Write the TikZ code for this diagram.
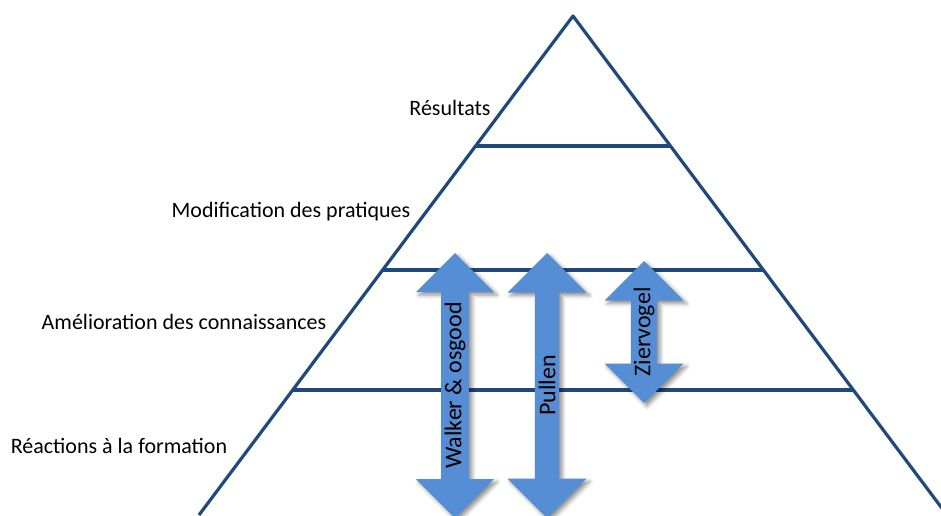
\documentclass[tikz,border=0pt]{standalone}
\usepackage{fontspec}
\setmainfont{Carlito}
\usetikzlibrary{calc,shapes.arrows,shadows.blur}
\definecolor{pyrline}{HTML}{1F497D}
\definecolor{arrowblue}{HTML}{558ED5}
\tikzset{x=1pt, y=-1pt,
  level/.style={draw=pyrline, line width=3.2pt},
  lvllabel/.style={font=\fontsize{22}{26}\selectfont, inner sep=0pt},
  bigarrow/.style={shape=double arrow, rotate=90, fill=arrowblue,
    double arrow tip angle=90, inner sep=0pt,
    font=\fontsize{24}{28}\selectfont,
    blur shadow={shadow xshift=3pt, shadow yshift=-3pt, shadow blur radius=4pt, shadow opacity=45}}}

\begin{document}
\begin{tikzpicture}
  \useasboundingbox (0,0) rectangle (941,515);
  \clip (0,0) rectangle (941,515);
  \coordinate (apex) at (573,16);
  \coordinate (bl) at (199,515);
  \coordinate (br) at (947,515);
  % pyramid
  \draw[level, line join=round] (bl) -- (apex) -- (br);
  \draw[level] ($(apex)!.2605!(bl)$) -- ($(apex)!.2605!(br)$);
  \draw[level] ($(apex)!.509!(bl)$) -- ($(apex)!.509!(br)$);
  \draw[level] ($(apex)!.7495!(bl)$) -- ($(apex)!.7495!(br)$);
  % levels
  \node[lvllabel] (res) at (450,108) {Résultats};
  \node[lvllabel] (mod) at (291,212) {Modification des pratiques};
  \node[lvllabel] (ame) at (184,322) {Amélioration des connaissances};
  \node[lvllabel] (rea) at (119,446) {Réactions à la formation};
  % arrows
  \node[bigarrow, minimum height=265, minimum width=78, double arrow head extend=19]
    (walker) at (455,385.5) {Walker \& osgood};
  \node[bigarrow, minimum height=265, minimum width=79, double arrow head extend=19.5]
    (pullen) at (547,385.5) {Pullen};
  \node[bigarrow, minimum height=142, minimum width=79, double arrow head extend=21.5]
    (ziervogel) at (644,332) {Ziervogel};
\end{tikzpicture}
\end{document}
